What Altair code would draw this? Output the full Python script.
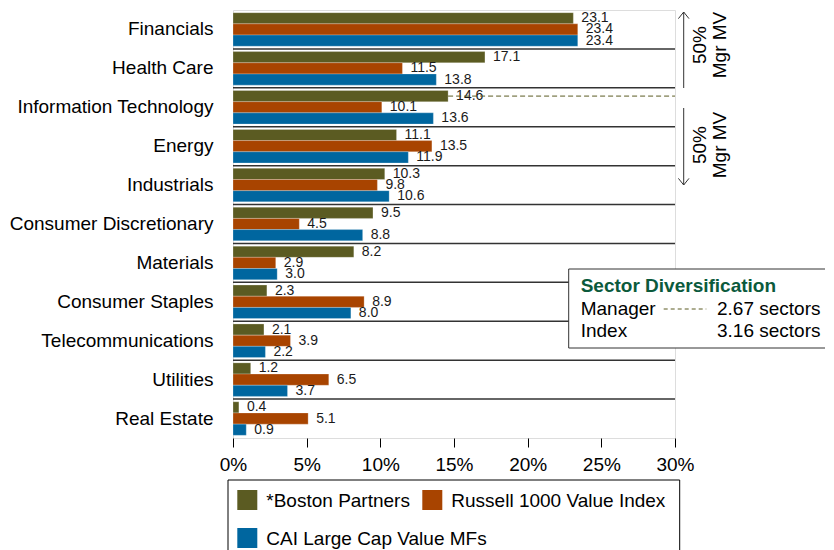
import altair as alt
import pandas as pd

categories = ["Financials", "Health Care", "Information Technology", "Energy",
              "Industrials", "Consumer Discretionary", "Materials",
              "Consumer Staples", "Telecommunications", "Utilities", "Real Estate"]
series = ["*Boston Partners", "Russell 1000 Value Index", "CAI Large Cap Value MFs"]
boston = [23.1, 17.1, 14.6, 11.1, 10.3, 9.5, 8.2, 2.3, 2.1, 1.2, 0.4]
russell = [23.4, 11.5, 10.1, 13.5, 9.8, 4.5, 2.9, 8.9, 3.9, 6.5, 5.1]
cai = [23.4, 13.8, 13.6, 11.9, 10.6, 8.8, 3.0, 8.0, 2.2, 3.7, 0.9]
colors = ["#5b5b22", "#a84400", "#00669f"]
x_ticks = [0, 5, 10, 15, 20, 25, 30]
div_names = ["Manager", "Index"]
div_values = [2.67, 3.16]
half_mv_label = ["50%", "Mgr MV"]
manager_cut_category = "Information Technology"
manager_cut_value = 14.6

FONT = "Liberation Sans"
W, H = 442, 428

rows = []
for s, vals in zip(series, [boston, russell, cai]):
    for c, v in zip(categories, vals):
        rows.append({"cat": c, "series": s, "value": v})
df = pd.DataFrame(rows)

color_scale = alt.Scale(domain=series, range=colors)

x_enc = alt.X("value:Q", scale=alt.Scale(domain=[0, 30], nice=False),
              axis=alt.Axis(values=x_ticks, labelExpr="datum.value + '%'", title=None,
                            grid=False, domain=False, tickSize=9, tickColor="black",
                            labelFontSize=19, labelColor="black", labelPadding=8,
                            labelFlush=False, labelFont=FONT))
y_enc = alt.Y("cat:N", sort=categories,
              scale=alt.Scale(paddingInner=0, paddingOuter=0),
              axis=alt.Axis(title=None, ticks=False, domain=False, labelPadding=20,
                            labelFontSize=19, labelColor="black", labelLimit=400,
                            labelFont=FONT))
yoff = alt.YOffset("series:N", sort=series,
                   scale=alt.Scale(paddingInner=0, paddingOuter=0.24))

bars = alt.Chart(df).mark_bar(stroke="white", strokeWidth=0.4, strokeOpacity=0.6).encode(
    x=x_enc, y=y_enc, yOffset=yoff,
    color=alt.Color("series:N", sort=series, scale=color_scale, legend=None),
)

labels = alt.Chart(df).mark_text(align="left", baseline="middle", dx=8, fontSize=14,
                                 color="#1a1a1a", font=FONT).encode(
    x="value:Q", y=alt.Y("cat:N", sort=categories), yOffset=alt.YOffset("series:N", sort=series),
    text=alt.Text("value:Q", format=".1f"),
)

sep = alt.Chart(pd.DataFrame({"cat": categories[1:]})).mark_rule(
    color="#333333", strokeWidth=1.5).encode(
    y=alt.Y("cat:N", sort=categories, bandPosition=0),
    x=alt.value(0), x2=alt.value(W),
)

cut = alt.Chart(pd.DataFrame({"cat": [manager_cut_category], "series": [series[0]],
                              "value": [manager_cut_value], "end": [30]})).mark_rule(
    color=colors[0], strokeDash=[5, 3], strokeWidth=1).encode(
    x="value:Q", x2="end:Q",
    y=alt.Y("cat:N", sort=categories), yOffset=alt.YOffset("series:N", sort=series),
)

# right-side arrows
arrow_x = 450.7
up_line = alt.Chart().mark_rule(color="#333333", strokeWidth=1).encode(
    x=alt.value(arrow_x), y=alt.value(2), y2=alt.value(78))
down_line = alt.Chart().mark_rule(color="#333333", strokeWidth=1).encode(
    x=alt.value(arrow_x), y=alt.value(98), y2=alt.value(175))
up_head = alt.Chart().mark_point(shape="M-1,1.25L0,0L1,1.25", filled=False,
                                 color="#333333", strokeWidth=1, size=112, opacity=1).encode(
    x=alt.value(arrow_x), y=alt.value(2))
down_head = alt.Chart().mark_point(shape="M-1,-1.25L0,0L1,-1.25", filled=False,
                                   color="#333333", strokeWidth=1, size=112, opacity=1).encode(
    x=alt.value(arrow_x), y=alt.value(175))
up_text = alt.Chart().mark_text(angle=270, align="center", baseline="middle", fontSize=19,
                                lineHeight=20, color="black", font=FONT).encode(
    x=alt.value(466.7), y=alt.value(35), text=alt.value(half_mv_label))
down_text = alt.Chart().mark_text(angle=270, align="center", baseline="middle", fontSize=19,
                                  lineHeight=20, color="black", font=FONT).encode(
    x=alt.value(466.7), y=alt.value(135), text=alt.value(half_mv_label))

# annotation box
box = alt.Chart().mark_rect(fill="white", stroke="#333333", strokeWidth=1).encode(
    x=alt.value(335.7), x2=alt.value(620), y=alt.value(259), y2=alt.value(338))
box_title = alt.Chart().mark_text(align="left", baseline="alphabetic", fontSize=19,
                                  fontWeight="bold", color="#0b5a3c", font=FONT).encode(
    x=alt.value(347.7), y=alt.value(282), text=alt.value("Sector Diversification"))
box_layers = [box, box_title]
for i, (n, v) in enumerate(zip(div_names, div_values)):
    d = pd.DataFrame({"name": [n], "val": [v]})
    yy = 305 + i * 21.7
    box_layers.append(alt.Chart(d).mark_text(align="left", baseline="alphabetic", fontSize=19,
                                             color="black", font=FONT).encode(
        x=alt.value(347.7), y=alt.value(yy), text="name:N"))
    box_layers.append(alt.Chart(d).transform_calculate(
        lab="format(datum.val, '.2f') + ' sectors'").mark_text(
        align="left", baseline="alphabetic", fontSize=19, color="black", font=FONT).encode(
        x=alt.value(484), y=alt.value(yy), text="lab:N"))
box_layers.append(alt.Chart().mark_rule(color=colors[0], strokeDash=[4, 3], strokeWidth=1).encode(
    x=alt.value(430.7), x2=alt.value(473.3), y=alt.value(299)))

# legend (flow layout: two items on the first row, one on the second)
legend_layers = [alt.Chart().mark_rect(fill="white", stroke="black", strokeWidth=1).encode(
    x=alt.value(-5), x2=alt.value(446.7), y=alt.value(470), y2=alt.value(600))]
legend_slots = [(14.3, 490), (199.3, 490), (14.3, 528)]  # symbol centre, row centre
for s, (sx, sy) in zip(series, legend_slots):
    d = pd.DataFrame({"series": [s]})
    legend_layers.append(alt.Chart(d).mark_point(shape="square", filled=True, size=400,
                                                 opacity=1, strokeWidth=0).encode(
        x=alt.value(sx), y=alt.value(sy),
        color=alt.Color("series:N", sort=series, scale=color_scale, legend=None)))
    legend_layers.append(alt.Chart(d).mark_text(align="left", baseline="middle", fontSize=19,
                                                color="black", font=FONT).encode(
        x=alt.value(sx + 19), y=alt.value(sy + 1), text="series:N"))

chart = alt.layer(bars, labels, sep, cut, up_line, down_line, up_head, down_head,
                  up_text, down_text, *box_layers, *legend_layers).properties(
    width=W, height=H,
    padding={"left": 225, "top": 2, "right": 150, "bottom": 112},
    autosize=alt.AutoSizeParams(type="none"),
).configure_view(
    fill="#e6e6e6", stroke="black", strokeWidth=2
).configure(font=FONT)

chart.save("out.html", embed_options={"renderer": "svg", "actions": False})
